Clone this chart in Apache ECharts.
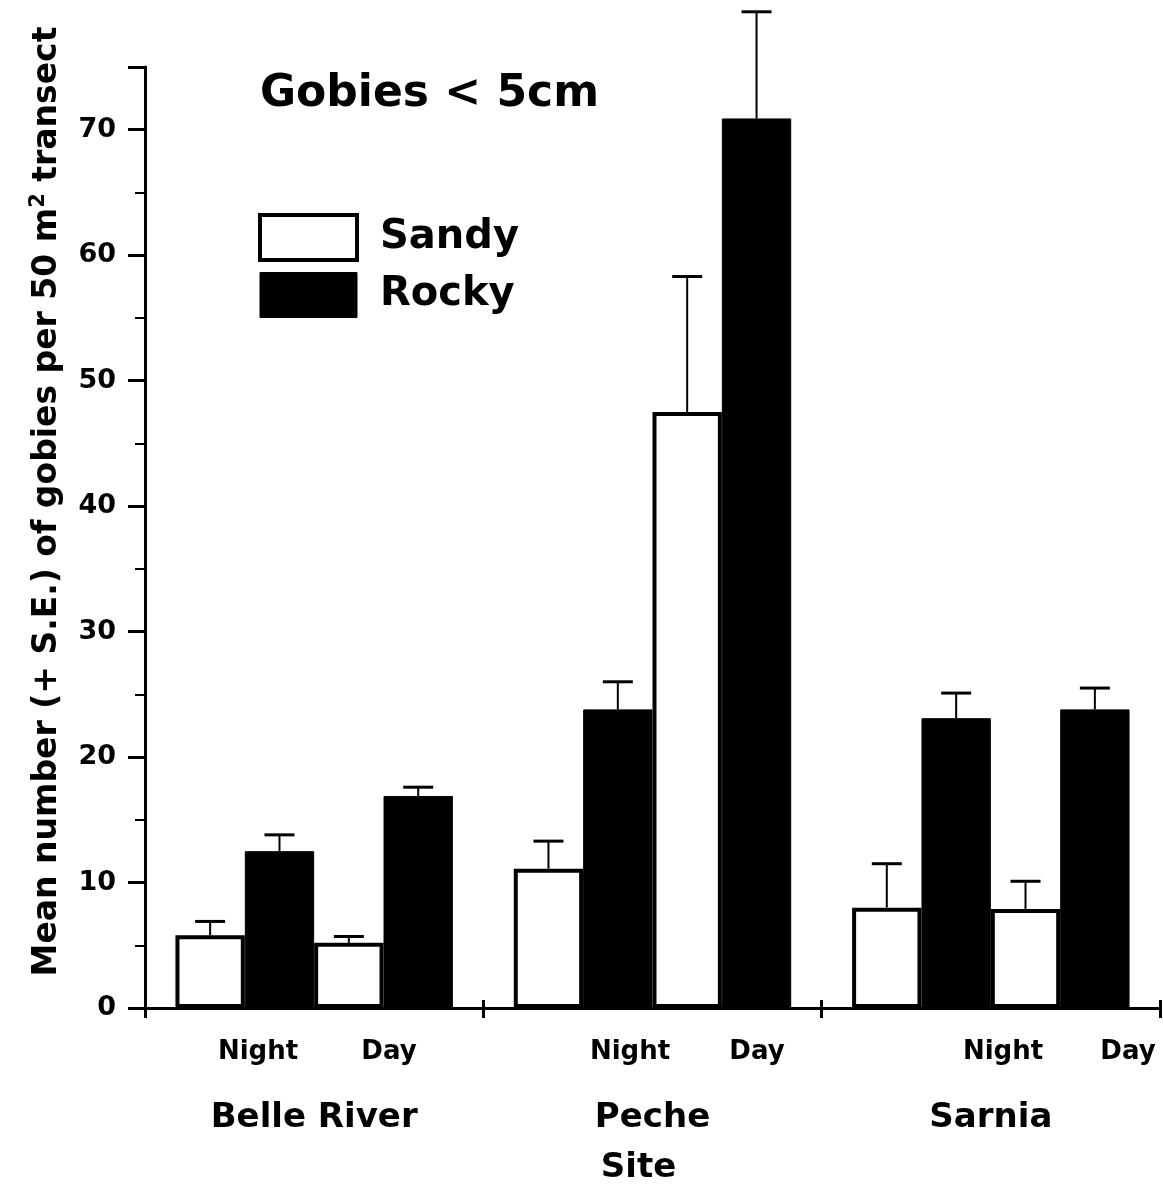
<!DOCTYPE html>
<html>
<head>
<meta charset="utf-8">
<script src="https://cdn.jsdelivr.net/npm/echarts@6/dist/echarts.min.js"></script>
<style>
  html, body { margin: 0; padding: 0; background: #fff; }
  #chart { width: 1163px; height: 1190px; }
</style>
</head>
<body>
<div id="chart"></div>
<script>
// Sites along the x axis
const sites = ['Belle River', 'Peche', 'Sarnia'];

// Mean number of gobies (< 5 cm) per 50 m² transect, and standard errors
const sandyNight   = [5.8, 11.1, 8.0];
const sandyNightSE = [1.1, 2.2, 3.5];
const rockyNight   = [12.5, 23.8, 23.1];
const rockyNightSE = [1.3, 2.2, 2.0];
const sandyDay     = [5.2, 47.5, 7.9];
const sandyDaySE   = [0.5, 10.8, 2.2];
const rockyDay     = [16.9, 70.9, 23.8];
const rockyDaySE   = [0.7, 8.5, 1.7];

// Y axis ticks
const yMin = 0, yMax = 75, yStep = 10;

// Sub-labels under each site pair
const timeLabels = ['Night', 'Day', 'Night', 'Day', 'Night', 'Day'];
const timeLabelX = [258, 389, 630, 757, 1003, 1128];

const FONT = 'DejaVu Sans';
const CAT_GAP = 0.18;

const groups = [
  { name: 'Sandy', mean: sandyNight, se: sandyNightSE },
  { name: 'Rocky', mean: rockyNight, se: rockyNightSE },
  { name: 'Sandy', mean: sandyDay,   se: sandyDaySE },
  { name: 'Rocky', mean: rockyDay,   se: rockyDaySE }
];

const sandyStyle = { color: '#fff', borderColor: '#000', borderWidth: 4 };
const rockyStyle = { color: '#000', borderColor: '#000', borderWidth: 1 };

const barSeries = groups.map(g => ({
  name: g.name,
  type: 'bar',
  data: g.mean,
  barGap: '0%',
  barCategoryGap: (CAT_GAP * 100) + '%',
  itemStyle: g.name === 'Sandy' ? sandyStyle : rockyStyle,
  emphasis: { disabled: true },
  z: 2
}));

const errData = [];
groups.forEach((g, k) => {
  g.mean.forEach((m, i) => errData.push([i, m, g.se[i], k]));
});

const errSeries = {
  name: 'SE',
  type: 'custom',
  clip: false,
  z: 3,
  data: errData,
  encode: { x: 0, y: 1 },
  renderItem: function (params, api) {
    const cat = api.value(0), val = api.value(1), se = api.value(2), k = api.value(3);
    const bandW = api.size([1, 0])[0];
    const bw = bandW * (1 - CAT_GAP) / 4;
    const base = api.coord([cat, val]);
    const x = base[0] + (k - 1.5) * bw;
    const top = api.coord([cat, val + se])[1];
    return {
      type: 'group',
      children: [
        { type: 'line', shape: { x1: x, y1: base[1], x2: x, y2: top },
          style: { stroke: '#000', lineWidth: 2 } },
        { type: 'line', shape: { x1: x - 15, y1: top, x2: x + 15, y2: top },
          style: { stroke: '#000', lineWidth: 3 } }
      ]
    };
  }
};

const chart = echarts.init(document.getElementById('chart'), null, { renderer: 'canvas' });

chart.setOption({
  animation: false,
  backgroundColor: '#fff',
  textStyle: { fontFamily: FONT },
  title: {
    text: 'Gobies < 5cm',
    left: 255,
    top: 68,
    textStyle: { fontFamily: FONT, fontWeight: 'bold', fontSize: 44, color: '#000' }
  },
  legend: {
    data: [
      { name: 'Sandy', itemStyle: { color: '#fff', borderColor: '#000', borderWidth: 4 } },
      { name: 'Rocky', itemStyle: { color: '#000', borderColor: '#000', borderWidth: 1 } }
    ],
    orient: 'vertical',
    left: 258,
    top: 213,
    padding: 0,
    itemWidth: 97,
    itemHeight: 45,
    itemGap: 10,
    icon: 'rect',
    selectedMode: false,
    textStyle: { fontFamily: FONT, fontWeight: 'bold', fontSize: 40, color: '#000',
                 padding: [0, 0, 0, 18], lineHeight: 45 }
  },
  grid: { left: 145, right: 3, top: 67, bottom: 180, containLabel: false },
  xAxis: [
    {
      type: 'category',
      data: sites,
      position: 'bottom',
      axisLine: { show: true, lineStyle: { color: '#000', width: 3 } },
      axisTick: { show: true, length: 10, lineStyle: { color: '#000', width: 3 } },
      axisLabel: { fontFamily: FONT, fontWeight: 'bold', fontSize: 34, color: '#000',
                   margin: 93, lineHeight: 34 },
      name: 'Site',
      nameLocation: 'middle',
      nameGap: 143,
      nameTextStyle: { fontFamily: FONT, fontWeight: 'bold', fontSize: 34, color: '#000',
                       lineHeight: 34, padding: [0, 28, 0, 0] }
    },
    {
      type: 'category',
      data: sites,
      position: 'bottom',
      offset: 0,
      axisLine: { show: false },
      axisTick: { show: true, inside: true, length: 8, lineStyle: { color: '#000', width: 3 } },
      axisLabel: { show: false }
    }
  ],
  yAxis: {
    type: 'value',
    min: yMin,
    max: yMax,
    interval: yStep,
    axisLine: { show: true, lineStyle: { color: '#000', width: 3 } },
    axisTick: { show: true, length: 17, lineStyle: { color: '#000', width: 3 } },
    minorTick: { show: true, splitNumber: 2, length: 10, lineStyle: { color: '#000', width: 2 } },
    splitLine: { show: false },
    axisLabel: { fontFamily: FONT, fontWeight: 'bold', fontSize: 27, color: '#000', margin: 29,
                 showMaxLabel: false },
    name: 'Mean number (+ S.E.) of gobies per 50 m{sup|2} transect',
    nameLocation: 'middle',
    nameRotate: 90,
    nameGap: 78,
    nameTextStyle: {
      fontFamily: FONT, fontWeight: 'bold', fontSize: 33, color: '#000', lineHeight: 40,
      padding: [0, 0, 0, 72],
      rich: {
        sup: { fontFamily: FONT, fontWeight: 'bold', fontSize: 21, color: '#000',
               lineHeight: 40, padding: [0, 0, 16, 0] }
      }
    }
  },
  graphic: timeLabels.map((t, i) => ({
    type: 'text',
    x: timeLabelX[i],
    y: 1052,
    style: { text: t, fontFamily: FONT, fontWeight: 'bold', fontSize: 26, fill: '#000',
             textAlign: 'center', textVerticalAlign: 'middle' }
  })),
  series: barSeries.concat([errSeries])
});
</script>
</body>
</html>
